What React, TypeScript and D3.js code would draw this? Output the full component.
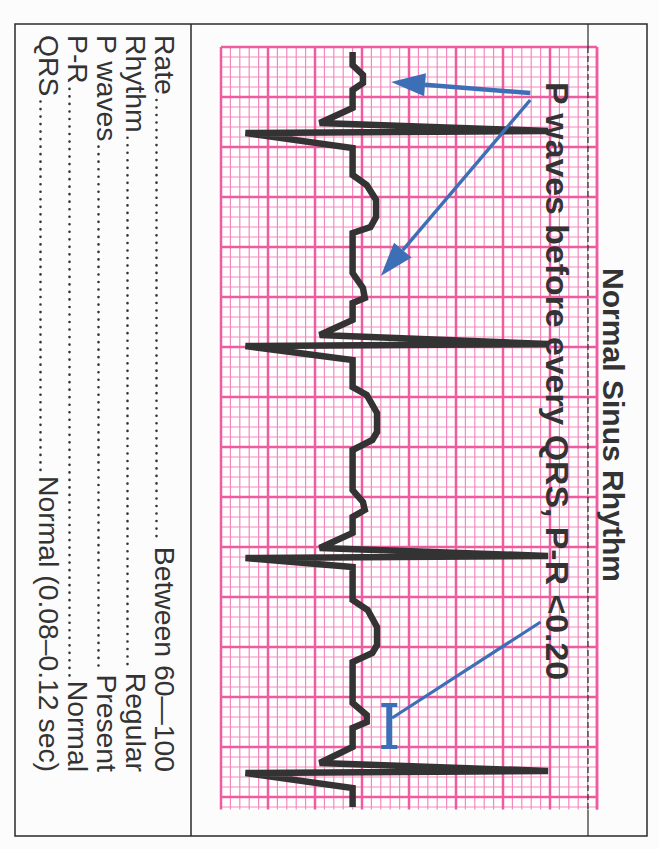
import React, { useEffect, useRef } from 'react';
import * as d3 from 'd3';

// ECG trace: time in seconds, amplitude in mV
const ecgTime = [
  0.020, 0.072, 0.112, 0.144, 0.172, 0.244, 0.304, 0.336, 0.344, 0.404,
  0.512, 0.552, 0.612, 0.680, 0.720, 0.744, 0.904, 0.964, 1.004, 1.024,
  1.092, 1.152, 1.188, 1.196, 1.252, 1.360, 1.392, 1.464, 1.540, 1.572,
  1.612, 1.772, 1.820, 1.852, 1.880, 1.944, 2.004, 2.036, 2.044, 2.080,
  2.212, 2.252, 2.320, 2.392, 2.424, 2.460, 2.624, 2.672, 2.700, 2.724,
  2.800, 2.864, 2.896, 2.904, 2.964, 3.040,
];
const ecgAmp = [
  0, 0, 0.11, 0.11, 0, 0, -0.35, 2.08, -1.14, 0,
  0, 0.15, 0.25, 0.25, 0.19, 0, 0, 0.11, 0.13, 0,
  0, -0.35, 2.08, -1.14, 0, 0, 0.15, 0.26, 0.26, 0.21,
  0, 0, 0.11, 0.13, 0, 0, -0.35, 2.08, -1.14, 0,
  0, 0.16, 0.26, 0.26, 0.21, 0, 0, 0.15, 0.15, 0,
  0, -0.35, 2.08, -1.14, 0, 0,
];

const rowLabels = ['Rate', 'Rhythm', 'P waves', 'P-R', 'QRS'];
const rowValues = ['Between 60—100', 'Regular', 'Present', 'Normal', 'Normal (0.08–0.12 sec)'];

const title = 'Normal Sinus Rhythm';
const note = 'P waves before every QRS, P-R <0.20';

// arrows pointing at the P waves (time s, amplitude mV)
const arrowFromT = [0.184, 0.212];
const arrowFromA = [1.89, 1.89];
const arrowToT = [0.14, 0.916];
const arrowToA = [0.41, 0.3];

// P-R interval marker and its leader line
const prT = [2.632, 2.8];
const prA = 0.39;
const prLeaderT = [2.684, 2.3];
const prLeaderA = [0.42, 2.0];

const W = 659;
const H = 849;

const App: React.FC = () => {
  const svgRef = useRef<SVGSVGElement>(null);

  useEffect(() => {
    if (!svgRef.current) return;
    const svg = d3.select(svgRef.current);
    svg.selectAll('*').remove();

    const frame = { left: 15, top: 24, right: 647, bottom: 836 };
    const divX = 191;
    const titleX = 588;

    // time runs down the page, amplitude to the right
    const y = d3.scaleLinear().domain([0, 3.05]).range([47, 809.5]);
    const x = d3.scaleLinear().domain([-1.4, 2.6]).range([221, 597]);

    svg.append('rect').attr('width', W).attr('height', H).attr('fill', '#fcfcfc');

    // grid paper
    const g = svg.append('g');
    g.append('rect')
      .attr('x', x(-1.4)).attr('y', y(0))
      .attr('width', x(2.6) - x(-1.4)).attr('height', y(3.05) - y(0))
      .attr('fill', '#fff');

    const ampTicks = d3.range(0, 41).map(i => ({ v: -1.4 + i * 0.1, major: i % 5 === 0 }));
    const timeTicks = d3.range(0, 77).map(i => ({ v: i * 0.04, major: i % 5 === 0 }));

    const drawGrid = (major: boolean) => {
      g.selectAll(null)
        .data(ampTicks.filter(d => d.major === major))
        .join('line')
        .attr('x1', d => x(d.v)).attr('x2', d => x(d.v))
        .attr('y1', y(0)).attr('y2', y(3.05))
        .attr('stroke', major ? '#ee5c9f' : '#f28abd')
        .attr('stroke-width', major ? 2.5 : 1.2);
      g.selectAll(null)
        .data(timeTicks.filter(d => d.major === major))
        .join('line')
        .attr('y1', d => y(d.v)).attr('y2', d => y(d.v))
        .attr('x1', x(-1.4)).attr('x2', x(2.6))
        .attr('stroke', major ? '#ee5c9f' : '#f28abd')
        .attr('stroke-width', major ? 2.5 : 1.2);
    };
    drawGrid(false);
    drawGrid(true);
    // right edge of the paper
    g.append('line')
      .attr('x1', x(2.6)).attr('x2', x(2.6))
      .attr('y1', y(0)).attr('y2', y(3.05))
      .attr('stroke', '#ee5c9f').attr('stroke-width', 2.5);

    // frame
    const fr = svg.append('g').attr('stroke', '#2a2a2a').attr('fill', 'none');
    fr.append('rect')
      .attr('x', frame.left).attr('y', frame.top)
      .attr('width', frame.right - frame.left).attr('height', frame.bottom - frame.top)
      .attr('stroke-width', 1.5);
    fr.append('line')
      .attr('x1', divX).attr('x2', divX)
      .attr('y1', frame.top).attr('y2', frame.bottom)
      .attr('stroke-width', 1.5);
    fr.append('line')
      .attr('x1', titleX).attr('x2', titleX)
      .attr('y1', frame.top).attr('y2', y(0))
      .attr('stroke-width', 1.2);
    fr.append('line')
      .attr('x1', titleX).attr('x2', titleX)
      .attr('y1', y(0)).attr('y2', y(3.05))
      .attr('stroke-width', 1.2)
      .attr('stroke-dasharray', '6,3');
    fr.append('line')
      .attr('x1', titleX).attr('x2', titleX)
      .attr('y1', y(3.05)).attr('y2', frame.bottom)
      .attr('stroke-width', 1.2);

    // ECG trace
    const pts: [number, number][] = ecgTime.map((t, i) => [x(ecgAmp[i]), y(t)]);
    svg.append('path')
      .attr('d', d3.line()(pts) || '')
      .attr('fill', 'none')
      .attr('stroke', '#333')
      .attr('stroke-width', 6.5)
      .attr('stroke-linejoin', 'miter')
      .attr('stroke-miterlimit', 2.5);

    // annotations
    const blue = '#3d6fb6';
    const ann = svg.append('g');
    arrowFromT.forEach((_, i) => {
      const x0 = x(arrowFromA[i]), y0 = y(arrowFromT[i]);
      const x1 = x(arrowToA[i]), y1 = y(arrowToT[i]);
      const len = Math.hypot(x1 - x0, y1 - y0);
      const ux = (x1 - x0) / len, uy = (y1 - y0) / len;
      const headL = 34, headW = 23;
      const bx = x1 - ux * headL, by = y1 - uy * headL;
      ann.append('line')
        .attr('x1', x0).attr('y1', y0).attr('x2', bx).attr('y2', by)
        .attr('stroke', blue).attr('stroke-width', i === 0 ? 4.5 : 3.4);
      ann.append('path')
        .attr('d', `M${x1},${y1}L${bx - uy * headW / 2},${by + ux * headW / 2}L${bx + uy * headW / 2},${by - ux * headW / 2}Z`)
        .attr('fill', blue);
    });

    ann.append('line')
      .attr('x1', x(prLeaderA[0])).attr('y1', y(prLeaderT[0]))
      .attr('x2', x(prLeaderA[1])).attr('y2', y(prLeaderT[1]))
      .attr('stroke', blue).attr('stroke-width', 3.2);
    ann.append('line')
      .attr('x1', x(prA)).attr('x2', x(prA))
      .attr('y1', y(prT[0])).attr('y2', y(prT[1]))
      .attr('stroke', blue).attr('stroke-width', 6);
    prT.forEach(t => {
      ann.append('line')
        .attr('x1', x(prA) - 8).attr('x2', x(prA) + 8)
        .attr('y1', y(t)).attr('y2', y(t))
        .attr('stroke', blue).attr('stroke-width', 4);
    });

    // rotated text (reads top to bottom)
    const font = '"Liberation Sans", Arial, Helvetica, sans-serif';
    const stretch = 1.03;

    svg.append('text')
      .attr('transform', `translate(603,268) rotate(90)`)
      .attr('font-family', font).attr('font-weight', 'bold').attr('font-size', 29)
      .attr('fill', '#333')
      .attr('textLength', 314).attr('lengthAdjust', 'spacingAndGlyphs')
      .text(title);

    svg.append('text')
      .attr('transform', `translate(546,82) rotate(90)`)
      .attr('font-family', font).attr('font-weight', 'bold').attr('font-size', 32)
      .attr('fill', '#333')
      .attr('textLength', 598).attr('lengthAdjust', 'spacingAndGlyphs')
      .text(note);

    const rowX = [155, 126, 97, 68, 39];
    rowLabels.forEach((lab, i) => {
      const row = svg.append('g')
        .attr('transform', `translate(${rowX[i]},0) rotate(90) scale(${stretch},1)`)
        .attr('font-family', font).attr('font-size', 27.5).attr('fill', '#333');
      const startY = 35 / stretch;
      const endY = 772 / stretch;
      const t1 = row.append('text').attr('x', startY).attr('y', 0).text(lab);
      const t2 = row.append('text').attr('x', endY).attr('y', 0).attr('text-anchor', 'end').text(rowValues[i]);
      const l1 = (t1.node() as SVGTextElement).getComputedTextLength();
      const l2 = (t2.node() as SVGTextElement).getComputedTextLength();
      row.append('line')
        .attr('x1', startY + l1 + 5).attr('x2', endY - l2 - 4)
        .attr('y1', -1.5).attr('y2', -1.5)
        .attr('stroke', '#333').attr('stroke-width', 2.6)
        .attr('stroke-linecap', 'round')
        .attr('stroke-dasharray', '0 7.3');
    });
  }, []);

  return (
    <svg
      ref={svgRef}
      width={W}
      height={H}
      style={{ position: 'absolute', left: 0, top: 0 }}
    />
  );
};

export default App;
